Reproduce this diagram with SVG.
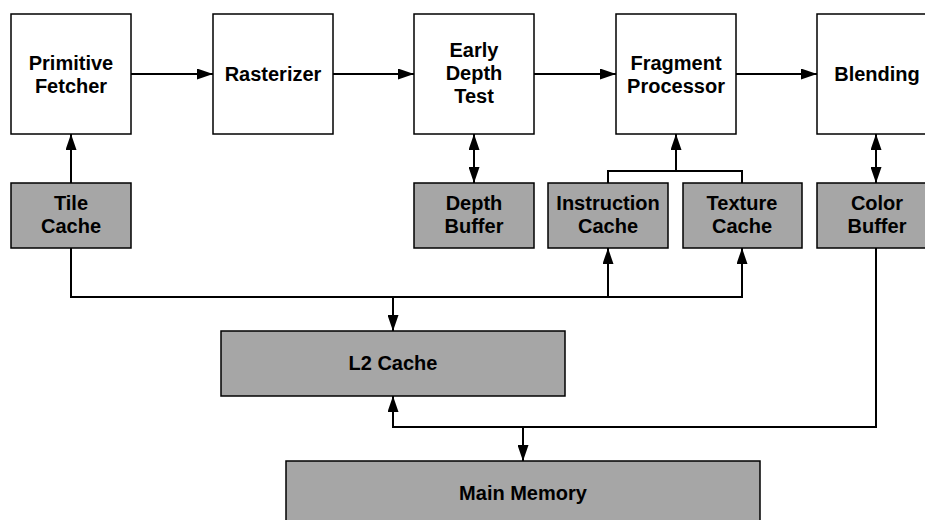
<svg xmlns="http://www.w3.org/2000/svg" width="925" height="520" viewBox="0 0 925 520">
  <style>
    .stage { fill: #ffffff; stroke: #000000; stroke-width: 1.5; }
    .store { fill: #a6a6a6; stroke: #000000; stroke-width: 1.5; }
    .label { font-family: "Liberation Sans", Arial, sans-serif; font-weight: bold; font-size: 20px; fill: #000000; text-anchor: middle; }
    .wire { fill: none; stroke: #000000; stroke-width: 2; }
  </style>
  <defs>
    <marker id="head" viewBox="0 0 16 11" refX="16" refY="5.5" markerWidth="16" markerHeight="11" markerUnits="userSpaceOnUse" orient="auto-start-reverse">
      <path d="M0,0 L16,5.5 L0,11 Z" fill="#000000"/>
    </marker>
  </defs>

  <rect width="925" height="520" fill="#ffffff"/>

  <!-- pipeline stages -->
  <g id="primitive-fetcher">
    <rect class="stage" x="11" y="14" width="120" height="120"/>
    <text class="label" x="71" y="70">Primitive</text>
    <text class="label" x="71" y="93">Fetcher</text>
  </g>
  <g id="rasterizer">
    <rect class="stage" x="213" y="14" width="120" height="120"/>
    <text class="label" x="273" y="81">Rasterizer</text>
  </g>
  <g id="early-depth-test">
    <rect class="stage" x="414" y="14" width="120" height="120"/>
    <text class="label" x="474" y="57">Early</text>
    <text class="label" x="474" y="80">Depth</text>
    <text class="label" x="474" y="103">Test</text>
  </g>
  <g id="fragment-processor">
    <rect class="stage" x="616" y="14" width="120" height="120"/>
    <text class="label" x="676" y="70">Fragment</text>
    <text class="label" x="676" y="93">Processor</text>
  </g>
  <g id="blending">
    <rect class="stage" x="817" y="14" width="120" height="120"/>
    <text class="label" x="877" y="81">Blending</text>
  </g>

  <!-- on-chip caches and buffers -->
  <g id="tile-cache">
    <rect class="store" x="11" y="183" width="120" height="65"/>
    <text class="label" x="71" y="209.5">Tile</text>
    <text class="label" x="71" y="233">Cache</text>
  </g>
  <g id="depth-buffer">
    <rect class="store" x="414" y="183" width="120" height="65"/>
    <text class="label" x="474" y="209.5">Depth</text>
    <text class="label" x="474" y="233">Buffer</text>
  </g>
  <g id="instruction-cache">
    <rect class="store" x="548" y="183" width="120" height="65"/>
    <text class="label" x="608" y="209.5">Instruction</text>
    <text class="label" x="608" y="233">Cache</text>
  </g>
  <g id="texture-cache">
    <rect class="store" x="683" y="183" width="119" height="65"/>
    <text class="label" x="742" y="209.5">Texture</text>
    <text class="label" x="742" y="233">Cache</text>
  </g>
  <g id="color-buffer">
    <rect class="store" x="817" y="183" width="120" height="65"/>
    <text class="label" x="877" y="209.5">Color</text>
    <text class="label" x="877" y="233">Buffer</text>
  </g>

  <!-- memory hierarchy -->
  <g id="l2-cache">
    <rect class="store" x="221" y="331" width="344" height="65"/>
    <text class="label" x="393" y="370">L2 Cache</text>
  </g>
  <g id="main-memory">
    <rect class="store" x="286" y="461" width="474" height="65"/>
    <text class="label" x="523" y="500">Main Memory</text>
  </g>

  <g id="connectors">
    <!-- pipeline flow -->
    <line class="wire" x1="131" y1="74" x2="213" y2="74" marker-end="url(#head)"/>
    <line class="wire" x1="333" y1="74" x2="414" y2="74" marker-end="url(#head)"/>
    <line class="wire" x1="534" y1="74" x2="616" y2="74" marker-end="url(#head)"/>
    <line class="wire" x1="736" y1="74" x2="817" y2="74" marker-end="url(#head)"/>

    <!-- stage to local storage -->
    <line class="wire" x1="71" y1="183" x2="71" y2="134" marker-end="url(#head)"/>
    <line class="wire" x1="474" y1="134" x2="474" y2="183" marker-start="url(#head)" marker-end="url(#head)"/>
    <polyline class="wire" points="608,183 608,171 742,171 742,183"/>
    <line class="wire" x1="676" y1="171" x2="676" y2="134" marker-end="url(#head)"/>
    <line class="wire" x1="876" y1="134" x2="876" y2="183" marker-start="url(#head)" marker-end="url(#head)"/>

    <!-- read bus from L2 -->
    <polyline class="wire" points="71,248 71,297 742,297 742,248" marker-end="url(#head)"/>
    <line class="wire" x1="608" y1="297" x2="608" y2="248" marker-end="url(#head)"/>
    <line class="wire" x1="393" y1="297" x2="393" y2="331" marker-end="url(#head)"/>

    <!-- write-back path and main memory -->
    <polyline class="wire" points="876,248 876,427 393,427 393,396" marker-end="url(#head)"/>
    <line class="wire" x1="523" y1="427" x2="523" y2="461" marker-end="url(#head)"/>
  </g>
</svg>
